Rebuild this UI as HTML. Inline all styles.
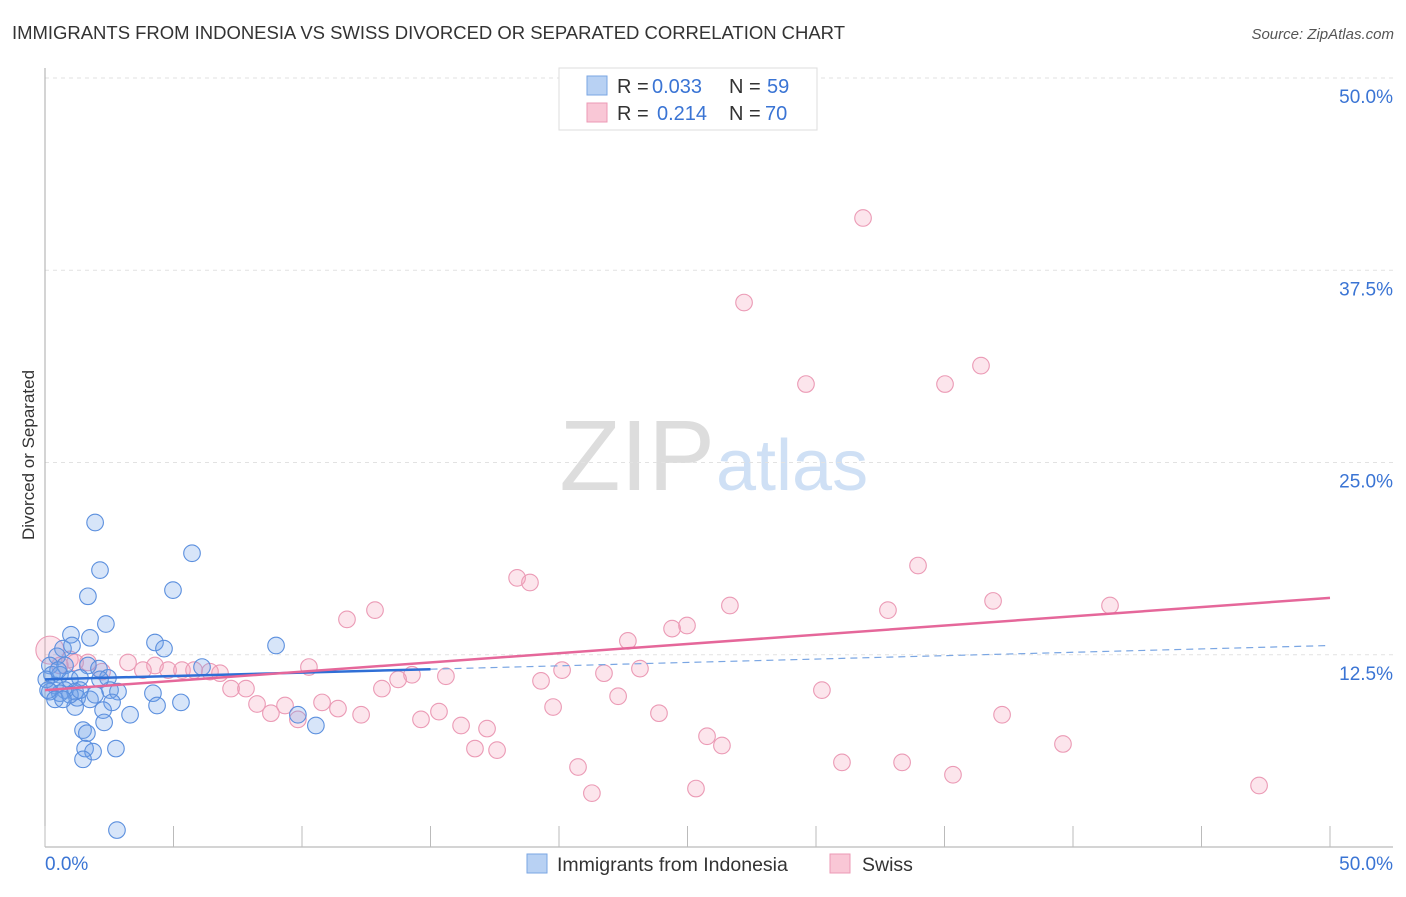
<!DOCTYPE html>
<html><head><meta charset="utf-8"><style>
body{margin:0;background:#fff;font-family:"Liberation Sans",sans-serif;}
svg text{font-family:"Liberation Sans",sans-serif;}
</style></head><body>
<svg id="chart" width="1406" height="892">
<text x="12" y="39" font-size="18.5" fill="#333" textLength="833">IMMIGRANTS FROM INDONESIA VS SWISS DIVORCED OR SEPARATED CORRELATION CHART</text>
<text x="1394" y="39" font-size="15" fill="#555" font-style="italic" text-anchor="end">Source: ZipAtlas.com</text>
<text x="715" y="490" font-size="100" fill="#ddd" font-family="Liberation Serif" text-anchor="end">ZIP</text>
<text x="716" y="490" font-size="72" fill="#cfe0f5">atlas</text>
<text transform="translate(34,455) rotate(-90)" font-size="17" fill="#333" text-anchor="middle">Divorced or Separated</text>
<g id="grid"></g><g id="marks"></g>
<g>
<rect x="559" y="68" width="258" height="62" fill="#fff" stroke="#ddd"/>
<rect x="587" y="76" width="20" height="19" fill="#b8d1f3" stroke="#7aa6e3"/>
<rect x="587" y="103" width="20" height="19" fill="#f9c7d6" stroke="#ec9ab5"/>
<text x="617" y="93" font-size="20" fill="#333">R =</text>
<text x="652" y="93" font-size="20" fill="#3a74d4">0.033</text>
<text x="729" y="93" font-size="20" fill="#333">N =</text>
<text x="767" y="93" font-size="20" fill="#3a74d4">59</text>
<text x="617" y="120" font-size="20" fill="#333">R =</text>
<text x="657" y="120" font-size="20" fill="#3a74d4">0.214</text>
<text x="729" y="120" font-size="20" fill="#333">N =</text>
<text x="765" y="120" font-size="20" fill="#3a74d4">70</text>
</g>
<g>
<rect x="527" y="854" width="20" height="19" fill="#b8d1f3" stroke="#7aa6e3"/>
<text x="557" y="871" font-size="19.5" fill="#333">Immigrants from Indonesia</text>
<rect x="830" y="854" width="20" height="19" fill="#f9c7d6" stroke="#ec9ab5"/>
<text x="862" y="871" font-size="19.5" fill="#333">Swiss</text>
</g>
</svg>
<script>
const yTicks=[12.5,25,37.5,50];
const blueX=[1.95,5.72,2.14,4.98,1.67,2.37,1.01,1.75,4.28,4.63,8.99,0.70,1.05,0.47,0.19,0.78,1.67,2.10,6.11,0.27,0.58,0.97,1.36,2.45,0.39,0.78,1.17,0.19,2.53,2.84,4.20,0.58,1.25,1.75,2.61,4.36,5.29,1.17,2.26,3.31,9.84,10.54,2.30,1.48,1.63,1.56,1.87,2.76,1.48,2.80,0.05,0.12,0.39,0.97,1.36,1.95,0.70,2.14,0.51];
const blueY=[21.1,19.1,18.0,16.7,16.3,14.5,13.8,13.6,13.3,12.9,13.1,12.9,13.1,12.4,11.8,11.8,11.8,11.6,11.7,11.2,11.2,10.9,11.0,11.0,10.5,10.2,10.1,10.1,10.2,10.1,10.0,10.0,9.7,9.6,9.4,9.2,9.4,9.1,8.9,8.6,8.6,7.9,8.1,7.6,7.4,6.4,6.2,6.4,5.7,1.1,10.9,10.2,9.6,9.9,10.2,9.9,9.6,10.9,11.5];
const pinkX=[31.83,27.20,36.42,29.61,35.02,33.97,18.37,18.87,26.65,32.80,36.89,41.44,12.84,11.75,24.98,24.40,22.68,0.19,0.97,1.67,3.23,4.28,2.22,3.81,4.79,5.33,5.80,6.42,6.81,10.27,14.28,15.60,20.12,21.75,23.15,7.24,7.82,13.11,13.74,19.30,30.23,22.30,8.25,9.34,10.78,11.40,8.79,9.84,12.30,15.33,14.63,16.19,17.20,19.77,23.89,37.24,25.76,26.34,16.73,17.59,39.61,31.01,33.35,20.74,35.33,25.33,21.28,47.24,0.58,1.17];
const pinkY=[40.9,35.4,31.3,30.1,30.1,18.3,17.5,17.2,15.7,15.4,16.0,15.7,15.4,14.8,14.4,14.2,13.4,12.8,12.2,12.0,12.0,11.8,11.4,11.5,11.5,11.5,11.5,11.4,11.3,11.7,11.2,11.1,11.5,11.3,11.6,10.3,10.3,10.3,10.9,10.8,10.2,9.8,9.3,9.2,9.4,9.0,8.7,8.3,8.6,8.8,8.3,7.9,7.7,9.1,8.7,8.6,7.2,6.6,6.4,6.3,6.7,5.5,5.5,5.2,4.7,3.8,3.5,4.0,11.8,12.0];
const blueTrend=[10.9,13.1];
const pinkTrend=[10.2,16.2];
const NS='http://www.w3.org/2000/svg';
const X0=45,X1=1330,Y0=847,Y1=78;
function sx(v){return X0+(v/50)*(X1-X0);}
function sy(v){return Y0-(v/50)*(Y0-Y1);}
function mk(tag,attrs,parent){const e=document.createElementNS(NS,tag);for(const k in attrs)e.setAttribute(k,attrs[k]);parent.appendChild(e);return e;}
const grid=document.getElementById('grid'),marks=document.getElementById('marks');
yTicks.forEach(t=>{
  const l=mk('line',{x1:X0,x2:1393,y1:sy(t),y2:sy(t),stroke:'#e2e2e2','stroke-dasharray':'4,4'},grid);
  
  
  const tx=mk('text',{x:1393,y:sy(t)+25,'font-size':19,fill:'#3a74d4','text-anchor':'end'},grid);
  tx.textContent=t.toFixed(1)+'%';
  
  
});
const ax=mk('line',{x1:X0,x2:X0,y1:68,y2:Y0,stroke:'#aaa'},grid);


const bx=mk('line',{x1:X0,x2:1393,y1:Y0,y2:Y0,stroke:'#aaa'},grid);


for(let i=0;i<=10;i++){const t=mk('line',{x1:sx(i*5),x2:sx(i*5),y1:826,y2:Y0,stroke:'#bbb'},grid);
  
  }
[[0,'0.0%',45,'start'],[50,'50.0%',1393,'end']].forEach(a=>{const t=mk('text',{x:a[2],y:870,'font-size':19,fill:'#3a74d4','text-anchor':a[3]},grid);t.textContent=a[1];
  
  });
pinkX.forEach((v,i)=>{const c=mk('circle',{cx:sx(v),cy:sy(pinkY[i]),r:i==17?14:8.3,fill:'rgba(244,160,188,0.28)',stroke:'#eb9ab5','stroke-width':1.1},marks);
  
  });
blueX.forEach((v,i)=>{const c=mk('circle',{cx:sx(v),cy:sy(blueY[i]),r:8.3,fill:'rgba(110,160,232,0.28)',stroke:'#5b8fde','stroke-width':1.1},marks);
  
  });
const bAt=x=>blueTrend[0]+(blueTrend[1]-blueTrend[0])*x/50;
let l1=mk('line',{x1:sx(0),y1:sy(bAt(0)),x2:sx(15),y2:sy(bAt(15)),stroke:'#2f6fd6','stroke-width':2.5},marks);


let l2=mk('line',{x1:sx(15),y1:sy(bAt(15)),x2:sx(50),y2:sy(bAt(50)),stroke:'#7aa6e3','stroke-width':1.2,'stroke-dasharray':'7,5'},marks);


let l3=mk('line',{x1:sx(0),y1:sy(pinkTrend[0]),x2:sx(50),y2:sy(pinkTrend[1]),stroke:'#e5679a','stroke-width':2.5},marks);


</script>
</body></html>
